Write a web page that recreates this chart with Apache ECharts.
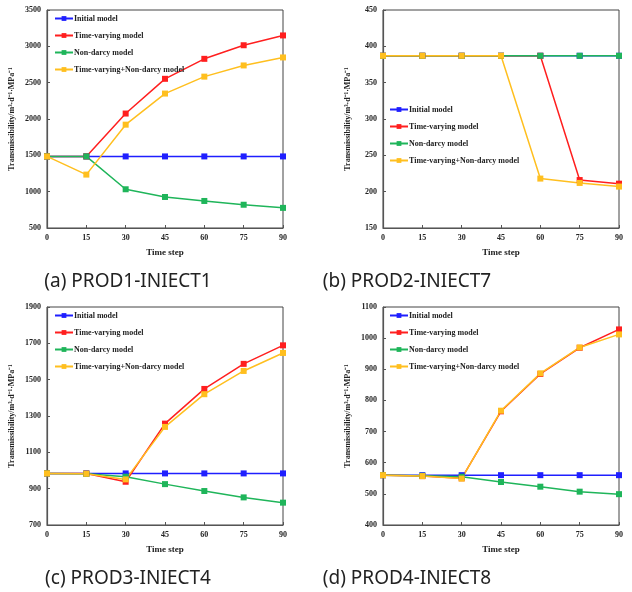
<!DOCTYPE html>
<html>
<head>
<meta charset="utf-8">
<script src="https://cdn.jsdelivr.net/npm/echarts@6/dist/echarts.min.js"></script>
<style>
html, body { margin: 0; padding: 0; background: #fff; }
#chart { width: 632px; height: 592px; }
</style>
</head>
<body>
<div id="chart"></div>
<script>
// time steps shared by all panels
var steps = [0, 15, 30, 45, 60, 75, 90];
var seriesNames = ['Initial model', 'Time-varying model', 'Non-darcy model', 'Time-varying+Non-darcy model'];
var colors = ['#1f1fff', '#ff1f1f', '#1fb55a', '#ffbf1f'];

// (a) PROD1-INIECT1
var aInitial = [1485, 1485, 1485, 1485, 1485, 1485, 1485];
var aTimeVarying = [1485, 1485, 2075, 2553, 2828, 3015, 3150];
var aNonDarcy = [1485, 1485, 1033, 927, 872, 820, 777];
var aBoth = [1485, 1235, 1922, 2350, 2583, 2737, 2847];

// (b) PROD2-INIECT7
var bInitial = [387, 387, 387, 387, 387, 387, 387];
var bTimeVarying = [387, 387, 387, 387, 387, 216, 211];
var bNonDarcy = [387, 387, 387, 387, 387, 387, 387];
var bBoth = [387, 387, 387, 387, 218, 212, 207];

// (c) PROD3-INIECT4
var cInitial = [984, 984, 984, 984, 984, 984, 984];
var cTimeVarying = [984, 983, 938, 1258, 1449, 1587, 1689];
var cNonDarcy = [984, 982, 966, 925, 887, 852, 823];
var cBoth = [984, 982, 951, 1240, 1420, 1548, 1647];

// (d) PROD4-INIECT8
var dInitial = [560, 560, 560, 560, 560, 560, 560];
var dTimeVarying = [560, 557, 550, 765, 885, 969, 1028];
var dNonDarcy = [560, 558, 555, 538, 523, 507, 499];
var dBoth = [560, 557, 549, 767, 887, 970, 1012];

var captions = ['(a) PROD1-INIECT1', '(b) PROD2-INIECT7', '(c) PROD3-INIECT4', '(d) PROD4-INIECT8'];
var yRanges = [[500, 3500, 500], [150, 450, 50], [700, 1900, 200], [400, 1100, 100]];

var panels = [
    [aInitial, aTimeVarying, aNonDarcy, aBoth],
    [bInitial, bTimeVarying, bNonDarcy, bBoth],
    [cInitial, cTimeVarying, cNonDarcy, cBoth],
    [dInitial, dTimeVarying, dNonDarcy, dBoth]
];

var gridPos = [
    {left: 47, top: 10},
    {left: 383, top: 10},
    {left: 47, top: 307},
    {left: 383, top: 307}
];
var legendPos = [
    {left: 49, top: 8},
    {left: 384, top: 99},
    {left: 49, top: 305},
    {left: 384, top: 305}
];
var captionPos = [
    {x: 128, y: 282},
    {x: 407, y: 282},
    {x: 128, y: 579},
    {x: 407, y: 579}
];

var serif = 'Liberation Serif';
var grids = [], xAxes = [], yAxes = [], legends = [], series = [], graphics = [];

function pairs(ys) {
    var out = [];
    for (var i = 0; i < steps.length; i++) {
        out.push([steps[i], ys[i]]);
    }
    return out;
}

for (var p = 0; p < 4; p++) {
    grids.push({
        left: gridPos[p].left, top: gridPos[p].top, width: 236, height: 218,
        show: true, borderColor: '#444', borderWidth: 1, backgroundColor: 'transparent'
    });
    xAxes.push({
        gridIndex: p, type: 'value', min: 0, max: 90, interval: 15,
        name: 'Time step', nameLocation: 'middle', nameGap: 20,
        nameTextStyle: {fontFamily: serif, fontWeight: 'bold', fontSize: 9, color: '#222'},
        axisLine: {lineStyle: {color: '#555', width: 1.2}},
        axisTick: {inside: true, length: 3, lineStyle: {color: '#555'}},
        axisLabel: {fontFamily: serif, fontWeight: 'bold', fontSize: 8, color: '#222', margin: 6},
        splitLine: {show: false}
    });
    yAxes.push({
        gridIndex: p, type: 'value', min: yRanges[p][0], max: yRanges[p][1], interval: yRanges[p][2],
        name: 'Transmissibility/m³·d⁻¹·MPa⁻¹', nameLocation: 'middle', nameGap: 31,
        nameTextStyle: {fontFamily: serif, fontWeight: 'bold', fontSize: 8, color: '#222'},
        axisLine: {show: true, lineStyle: {color: '#555', width: 1.2}},
        axisTick: {show: true, inside: true, length: 3, lineStyle: {color: '#555'}},
        axisLabel: {
            fontFamily: serif, fontWeight: 'bold', fontSize: 8, color: '#222', margin: 6,
            formatter: function (v) { return String(v); }
        },
        splitLine: {show: false}
    });
    var names = [];
    for (var s = 0; s < 4; s++) {
        var nm = seriesNames[s] + ' ' + p;
        names.push({name: nm});
        series.push({
            name: nm,
            type: 'line',
            xAxisIndex: p,
            yAxisIndex: p,
            data: pairs(panels[p][s]),
            symbol: 'rect',
            symbolSize: 6,
            showAllSymbol: true,
            lineStyle: {color: colors[s], width: 1.5},
            itemStyle: {color: colors[s]},
            animation: false
        });
    }
    legends.push({
        orient: 'vertical',
        left: legendPos[p].left,
        top: legendPos[p].top,
        data: names,
        itemWidth: 18,
        itemHeight: 6,
        itemGap: 6,
        formatter: function (n) { return n.replace(/ \d$/, ''); },
        textStyle: {fontFamily: serif, fontWeight: 'bold', fontSize: 8, color: '#222', lineHeight: 11, padding: [0, 0, 0, -4]},
        selectedMode: false
    });
    graphics.push({
        type: 'text',
        x: captionPos[p].x,
        y: captionPos[p].y,
        style: {
            text: captions[p],
            fontFamily: 'Noto Sans',
            fontSize: 19,
            fill: '#222',
            textAlign: 'center',
            textVerticalAlign: 'middle'
        }
    });
}

var myChart = echarts.init(document.getElementById('chart'), null, {width: 632, height: 592});
myChart.setOption({
    animation: false,
    backgroundColor: '#fff',
    grid: grids,
    xAxis: xAxes,
    yAxis: yAxes,
    legend: legends,
    series: series,
    graphic: graphics
});
</script>
</body>
</html>
